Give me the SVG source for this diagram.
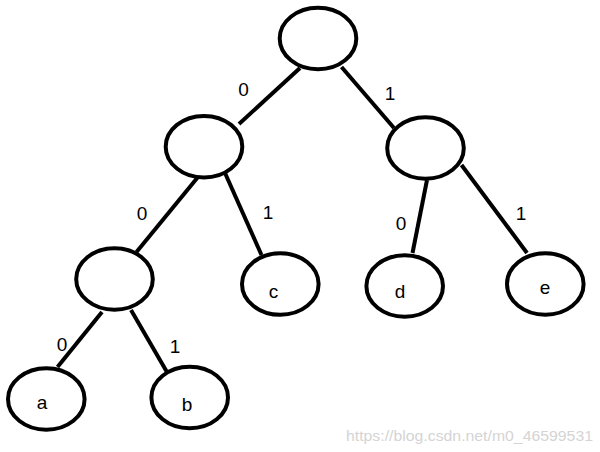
<svg xmlns="http://www.w3.org/2000/svg" width="600" height="452" viewBox="0 0 600 452">
<style>
.n{fill:none;stroke:#000;stroke-width:4}
.e{stroke:#000;stroke-width:4;stroke-linecap:butt}
.t{font-family:"Liberation Sans","DejaVu Sans",sans-serif;font-size:19px;fill:#000;text-anchor:middle}
.w{font-family:"Liberation Sans","DejaVu Sans",sans-serif;font-size:15px;fill:#d4d4d4}
</style>
<rect width="600" height="452" fill="#fff"/>
<g id="connectors">
<line class="e" x1="300" y1="68" x2="239" y2="124"/>
<line class="e" x1="341.5" y1="67" x2="394" y2="128"/>
<line class="e" x1="198" y1="177" x2="136.5" y2="252"/>
<line class="e" x1="225" y1="173" x2="261.5" y2="255"/>
<line class="e" x1="427" y1="180" x2="412.5" y2="253"/>
<line class="e" x1="461.5" y1="165" x2="527" y2="253"/>
<line class="e" x1="102" y1="312" x2="57.5" y2="367"/>
<line class="e" x1="131" y1="310" x2="167.5" y2="373"/>
<text class="t" x="243.5" y="96">0</text>
<text class="t" x="390" y="100">1</text>
<text class="t" x="142" y="220">0</text>
<text class="t" x="268" y="219">1</text>
<text class="t" x="401" y="230">0</text>
<text class="t" x="521" y="220">1</text>
<text class="t" x="62" y="351">0</text>
<text class="t" x="175" y="353">1</text>
</g>
<g id="root"><ellipse class="n" cx="318" cy="38.5" rx="38.3" ry="30.8"/></g>
<g id="n0"><ellipse class="n" cx="204" cy="146.7" rx="38.3" ry="30.8"/></g>
<g id="n1"><ellipse class="n" cx="425.5" cy="148" rx="38.3" ry="30.8"/></g>
<g id="n00"><ellipse class="n" cx="114.5" cy="279" rx="38.3" ry="30.8"/></g>
<g id="c"><ellipse class="n" cx="280.3" cy="284" rx="38.3" ry="30.8"/><text class="t" x="273.5" y="298">c</text></g>
<g id="d"><ellipse class="n" cx="404.7" cy="286" rx="38.3" ry="30.8"/><text class="t" x="400" y="298">d</text></g>
<g id="e"><ellipse class="n" cx="545.3" cy="284" rx="38.3" ry="30.8"/><text class="t" x="545" y="294">e</text></g>
<g id="a"><ellipse class="n" cx="46.3" cy="399" rx="38.3" ry="30.8"/><text class="t" x="42" y="409">a</text></g>
<g id="b"><ellipse class="n" cx="189.7" cy="397.5" rx="38.3" ry="30.8"/><text class="t" x="187" y="411">b</text></g>
<text class="w" x="346" y="441" textLength="247" lengthAdjust="spacingAndGlyphs">https://blog.csdn.net/m0_46599531</text>
</svg>
